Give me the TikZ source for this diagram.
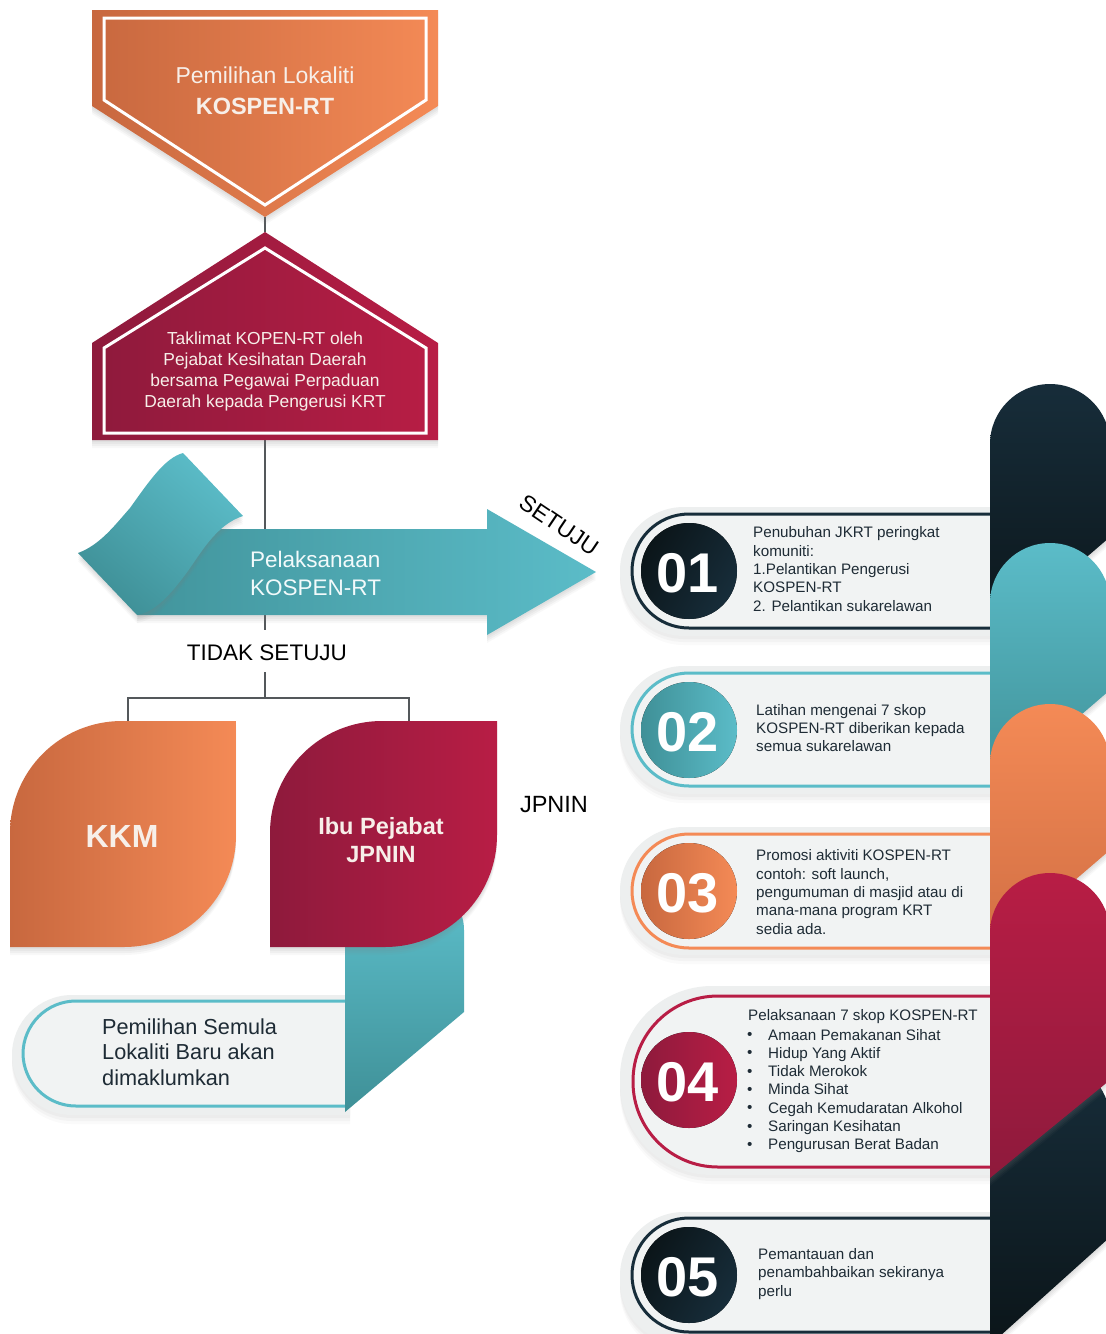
\documentclass[tikz,border=0pt]{standalone}
\usepackage{fontspec}
\setmainfont{Liberation Sans}
\usetikzlibrary{shadows}
\definecolor{orA}{HTML}{C8683F}
\definecolor{orB}{HTML}{F48A56}
\definecolor{crA}{HTML}{8E1A3C}
\definecolor{crB}{HTML}{B81D45}
\definecolor{teA}{HTML}{3F9097}
\definecolor{teB}{HTML}{5BBCC8}
\definecolor{naA}{HTML}{0B1519}
\definecolor{naB}{HTML}{172D3A}
\definecolor{pale}{HTML}{EDEFEF}
\definecolor{inpale}{HTML}{F1F3F3}
\definecolor{txt}{HTML}{1E2B35}
\definecolor{ln}{HTML}{54585B}
\definecolor{wtxt}{HTML}{F7EFE9}
\begin{document}
\begin{tikzpicture}[x=1pt,y=-1pt,
  shad/.style={drop shadow={opacity=0.07,shadow xshift=0pt,shadow yshift=-2pt},
               drop shadow={opacity=0.07,shadow xshift=0pt,shadow yshift=-4pt},
               drop shadow={opacity=0.07,shadow xshift=0pt,shadow yshift=-6pt},
               drop shadow={opacity=0.05,shadow xshift=0pt,shadow yshift=-8pt}},
  lightshad/.style={drop shadow={opacity=0.05,shadow xshift=0pt,shadow yshift=-3pt},
               drop shadow={opacity=0.05,shadow xshift=0pt,shadow yshift=-6pt},
               drop shadow={opacity=0.04,shadow xshift=0pt,shadow yshift=-9pt}},
  conn/.style={draw=ln,line width=2pt},
  itemtxt/.style={font=\fontsize{15.2}{18.3}\selectfont,text=txt,align=left,anchor=west,inner sep=0pt},
  num/.style={font=\fontsize{56}{56}\selectfont\bfseries,text=white,inner sep=0pt},
  lbl/.style={font=\fontsize{22.5}{26}\selectfont,text=black,inner sep=0pt},
  outline/.style={draw=white,line width=3pt}
]
\useasboundingbox (0,0) rectangle (1106,1334);
\fill[white] (0,0) rectangle (1106,1334);
\clip (0,0) rectangle (1106,1334);

% ---------- connectors (behind shapes) ----------
\coordinate (p1b) at (265,217);
\coordinate (p2t) at (265,232);
\coordinate (p2b) at (265,440);
\coordinate (arrL) at (265,630);
\node[lbl] (tidak) at (267,653) {TIDAK SETUJU};
\coordinate (tidakB) at (265,672);
\coordinate (split) at (265,698);
\coordinate (splitL) at (128,698);
\coordinate (splitR) at (409,698);
\coordinate (kkmT) at (128,722);
\coordinate (jpT) at (409,722);
\draw[conn] (p1b) -- (p2t);
\draw[conn] (p2b) -- (arrL);
\draw[conn] (tidakB) -- (split);
\draw[conn] (kkmT) -- (splitL) -- (splitR) -- (jpT);

% ---------- top orange pentagon ----------
\path[shad,left color=orA,right color=orB] (92,10) -- (438,10) -- (438,106) -- (265,217) -- (92,106) -- cycle;
\draw[outline] (104,18) -- (426,18) -- (426,100) -- (265,205) -- (104,100) -- cycle;
\node[font=\fontsize{23}{31}\selectfont,text=wtxt,align=center] (t1) at (265,91)
  {Pemilihan Lokaliti\\{\fontsize{23.5}{31}\selectfont\bfseries KOSPEN-RT}};

% ---------- crimson house ----------
\path[shad,left color=crA,right color=crB] (92,440) -- (92,343) -- (265,232) -- (438,343) -- (438,440) -- cycle;
\draw[outline] (104,433) -- (104,348) -- (265,248) -- (426,348) -- (426,433) -- cycle;
\node[font=\fontsize{17.4}{21}\selectfont,text=wtxt,align=center] (t2) at (265,371)
  {Taklimat KOPEN-RT oleh\\Pejabat Kesihatan Daerah\\bersama Pegawai Perpaduan\\Daerah kepada Pengerusi KRT};

% ---------- teal arrow ----------
\path[shad,left color=teA!90!teB,right color=teB] (137,615) -- (487,615) -- (487,635) -- (596,572) -- (487,509) -- (487,529) -- (150,529) -- cycle;
\path[shad,top color=teB,bottom color=teA,shading angle=-40]
  (78,553) .. controls (100,545) and (115,525) .. (130,508) .. controls (150,480) and (165,458) .. (183,453)
  -- (243,516) .. controls (215,525) and (200,555) .. (185,575) .. controls (170,595) and (155,612) .. (137,615) -- cycle;
\node[font=\fontsize{22.5}{28}\selectfont,text=white!92!teB,align=left,anchor=west,inner sep=0pt] (pel) at (250,573)
  {Pelaksanaan\\KOSPEN-RT};
\node[lbl,font=\fontsize{23}{26}\selectfont,rotate=-34] (setuju) at (559,525) {SETUJU};

% ---------- KKM leaf ----------
\path[shad,left color=orA,right color=orB] (10,947) -- (10,833) .. controls (10,771) and (60,721) .. (122,721) -- (236,721) -- (236,835) .. controls (236,897) and (186,947) .. (124,947) -- cycle;
\node[font=\fontsize{32}{32}\selectfont\bfseries,text=wtxt] (kkm) at (122,836) {KKM};

% ---------- Pemilihan semula box ----------
\path[lightshad,fill=pale,rounded corners=60pt] (350,995) -- (12,995) -- (12,1115) -- (350,1115);
\draw[draw=teB,line width=3pt,fill=inpale,rounded corners=53pt] (350,1001) -- (23,1001) -- (23,1106) -- (350,1106);
\node[font=\fontsize{21.7}{25.5}\selectfont,text=txt,align=left,anchor=west,inner sep=0pt] (semula) at (102,1052)
  {Pemilihan Semula\\Lokaliti Baru akan\\dimaklumkan};

% ---------- teal ribbon ----------
\path[top color=teB,bottom color=teA] (345,900) -- (440,900) .. controls (455,900) and (464,912) .. (464,930) -- (464,1012) -- (345,1112) -- cycle;

% ---------- JPNIN leaf ----------
\path[shad,left color=crA,right color=crB] (270,947) -- (270,833) .. controls (270,771) and (320,721) .. (382,721) -- (497,721) -- (497,835) .. controls (497,897) and (447,947) .. (385,947) -- cycle;
\node[font=\fontsize{23.5}{28}\selectfont\bfseries,text=wtxt,align=center] (ibu) at (381,840) {Ibu Pejabat\\JPNIN};
\node[lbl,font=\fontsize{23.5}{26}\selectfont] (jpnin) at (554,805) {JPNIN};

% ---------- right pills ----------
% 01
\path[lightshad,fill=pale,rounded corners=64pt] (995,507) -- (620,507) -- (620,636) -- (995,636);
\draw[draw=naB,line width=3pt,fill=inpale,rounded corners=57pt] (995,514) -- (632,514) -- (632,628) -- (995,628);
\fill[left color=naA,right color=naB,shading angle=60] (689,571) circle[radius=48pt];
\node[num] (n1) at (688,573) {01};
\node[itemtxt] (d1) at (753,569) {Penubuhan JKRT peringkat\\komuniti:\\1.Pelantikan Pengerusi\\KOSPEN-RT\\2. Pelantikan sukarelawan};
% 02
\path[lightshad,fill=pale,rounded corners=64pt] (995,666) -- (620,666) -- (620,794) -- (995,794);
\draw[draw=teB,line width=3pt,fill=inpale,rounded corners=57pt] (995,673) -- (632,673) -- (632,786) -- (995,786);
\fill[left color=teA,right color=teB] (689,730) circle[radius=48pt];
\node[num] (n2) at (688,732) {02};
\node[itemtxt] (d2) at (756,728) {Latihan mengenai 7 skop\\KOSPEN-RT diberikan kepada\\semua sukarelawan};
% 03
\path[lightshad,fill=pale,rounded corners=64pt] (995,827) -- (620,827) -- (620,955) -- (995,955);
\draw[draw=orB,line width=3pt,fill=inpale,rounded corners=57pt] (995,834) -- (632,834) -- (632,948) -- (995,948);
\fill[left color=orA,right color=orB] (689,891) circle[radius=48pt];
\node[num] (n3) at (688,893) {03};
\node[itemtxt] (d3) at (756,892) {Promosi aktiviti KOSPEN-RT\\contoh: soft launch,\\pengumuman di masjid atau di\\mana-mana program KRT\\sedia ada.};
% 04
\path[lightshad,fill=pale,rounded corners=92pt] (995,986) -- (620,986) -- (620,1175) -- (995,1175);
\draw[draw=crB,line width=3pt,fill=inpale,rounded corners=85pt] (995,996) -- (633,996) -- (633,1167) -- (995,1167);
\fill[left color=crA,right color=crB] (689,1080) circle[radius=48pt];
\node[num] (n4) at (688,1082) {04};
\node[itemtxt] (d4) at (748,1017) {Pelaksanaan 7 skop KOSPEN-RT};
\node[itemtxt] (d4b) at (747,1091) {•\\•\\•\\•\\•\\•\\•};
\node[itemtxt] (d4i) at (768,1091) {Amaan Pemakanan Sihat\\Hidup Yang Aktif\\Tidak Merokok\\Minda Sihat\\Cegah Kemudaratan Alkohol\\Saringan Kesihatan\\Pengurusan Berat Badan};
% 05
\path[lightshad,fill=pale,rounded corners=64pt] (995,1212) -- (620,1212) -- (620,1345) -- (995,1345);
\draw[draw=naB,line width=3pt,fill=inpale,rounded corners=57pt] (995,1218) -- (632,1218) -- (632,1332) -- (995,1332);
\fill[left color=naA,right color=naB,shading angle=60] (689,1275) circle[radius=48pt];
\node[num] (n5) at (688,1277) {05};
\node[itemtxt] (d5) at (758,1274) {Pemantauan dan\\penambahbaikan sekiranya\\perlu};

% ---------- right bands ----------
\path[shad,top color=naB,bottom color=naA] (990,640) -- (990,444) .. controls (990,411) and (1017,384) .. (1050,384) .. controls (1083,384) and (1110,411) .. (1110,444) -- (1110,537) -- cycle;
\path[shad,top color=teB,bottom color=teA] (990,793) -- (990,603) .. controls (990,570) and (1017,543) .. (1050,543) .. controls (1083,543) and (1110,570) .. (1110,603) -- (1110,690) -- cycle;
\path[shad,top color=orB,bottom color=orA!80!orB] (990,953) -- (990,764) .. controls (990,731) and (1017,704) .. (1050,704) .. controls (1083,704) and (1110,731) .. (1110,764) -- (1110,850) -- cycle;
\path[shad,top color=naB,bottom color=naA] (990,1345) -- (990,1120) .. controls (990,1087) and (1017,1060) .. (1050,1060) .. controls (1083,1060) and (1110,1087) .. (1110,1120) -- (1110,1237) -- cycle;
\path[shad,top color=crB,bottom color=crA] (990,1178) -- (990,933) .. controls (990,900) and (1017,873) .. (1050,873) .. controls (1083,873) and (1110,900) .. (1110,933) -- (1110,1080) -- cycle;
\end{tikzpicture}
\end{document}
